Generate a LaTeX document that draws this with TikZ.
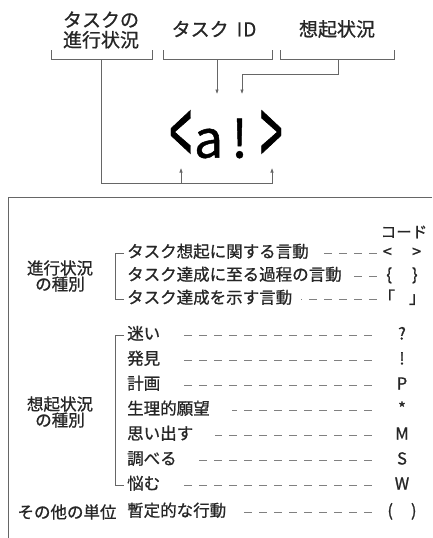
\documentclass[tikz,border=0pt]{standalone}
\usepackage{fontspec}
\setmainfont{Noto Sans CJK JP}[UprightFeatures={FakeBold=0.9}]
\usetikzlibrary{arrows.meta}
\tikzset{
  line/.style={draw=black!60, line width=0.6pt},
  guide/.style={draw=black!50, line width=0.6pt, dash pattern=on 8pt off 7pt},
  feed/.style={line, -{Latex[length=4.5pt,width=3.5pt]}},
  toplabel/.style={font=\fontsize{19}{20}\selectfont, text=black!85, align=center},
  kind/.style={font=\fontsize{16.5}{16}\selectfont, text=black!85, align=center},
  entry/.style={font=\fontsize{16.5}{18}\selectfont, text=black!85, anchor=west, inner sep=0pt, text height=12pt, text depth=3pt},
  codebox/.style={font=\fontsize{16.5}{18}\selectfont, text=black!85, inner sep=0pt, minimum width=48pt, text height=12pt, text depth=3pt}
}
\newcommand{\tallglyph}[1]{\raisebox{-10pt}{\scalebox{0.78}[1.85]{#1}}}
\begin{document}
\begin{tikzpicture}[x=1pt,y=-1pt]
\useasboundingbox (0,0) rectangle (433,538);
% upper part: how a code is built
\node[toplabel] (prog) at (101,30) {タスクの\\進行状況};
\node[toplabel] (tid) at (214,29) {タスク\hspace{8pt}I\hspace{1pt}D};
\node[toplabel] (rec) at (337,29) {想起状況};
\draw[line] (51,50) -- (51,59) -- (152,59) -- (152,50);
\draw[line] (163,50) -- (163,59) -- (272,59) -- (272,50);
\draw[line] (280,50) -- (280,59) -- (394,59) -- (394,50);
\coordinate (progB) at (101,59);
\coordinate (tidB) at (217,59);
\coordinate (recB) at (338,59);
\node[font=\fontsize{52}{52}\selectfont, text=black] (code) at (226,139) {\tallglyph{<}\hspace{2pt}a\hspace{8pt}!\hspace{12pt}\tallglyph{>}};
\coordinate (codeTL) at (217,94);
\coordinate (codeTR) at (242,94);
\coordinate (codeBL) at (181,168);
\coordinate (codeBR) at (272,168);
\draw[feed] (tidB) -- (codeTL);
\draw[feed] (recB) |- (242,74) -- (codeTR);
\draw[feed] (progB) |- (272,183) -- (codeBR);
\draw[feed] (181,183) -- (codeBL);
% lower part: list of codes
\draw[line] (432,197) -- (8,197) -- (8,538);
\node[font=\fontsize{15.5}{16}\selectfont, text=black!85] (head) at (404,232) {コード};
\node[kind] (kind1) at (60,276) {進行状況\\の種別};
\node[entry] (p1) at (127,253) {タスク想起に関する言動};
\node[entry] (p2) at (127,276) {タスク達成に至る過程の言動};
\node[entry] (p3) at (127,299) {タスク達成を示す言動};
\node[codebox] (c1) at (402,253) {<\hspace{20pt}>};
\node[codebox] (c2) at (402,276) {\{\hspace{20pt}\}};
\node[codebox] (c3) at (402,299) {「\hspace{14pt}」};
\draw[line] ([xshift=-3pt]p1.west) -| ([xshift=-12pt]p3.west) -- ([xshift=-3pt]p3.west);
\draw[guide, shorten <=1pt, shorten >=9pt] (c1.west) -- (p1.east);
\draw[guide, shorten <=1pt, shorten >=9pt] (c2.west) -- (p2.east);
\draw[guide, shorten <=1pt, shorten >=9pt] (c3.west) -- (p3.east);
\node[kind] (kind2) at (60,412) {想起状況\\の種別};
\node[entry] (s1) at (127,335) {迷い};
\node[entry] (s2) at (127,360) {発見};
\node[entry] (s3) at (127,385) {計画};
\node[entry] (s4) at (127,410) {生理的願望};
\node[entry] (s5) at (127,435) {思い出す};
\node[entry] (s6) at (127,460) {調べる};
\node[entry] (s7) at (127,485) {悩む};
\node[codebox] (m1) at (402,335) {?};
\node[codebox] (m2) at (402,360) {!};
\node[codebox] (m3) at (402,385) {P};
\node[codebox] (m4) at (402,410) {*};
\node[codebox] (m5) at (402,435) {M};
\node[codebox] (m6) at (402,460) {S};
\node[codebox] (m7) at (402,485) {W};
\draw[line] ([xshift=-3pt]s1.west) -| ([xshift=-12pt]s7.west) -- ([xshift=-3pt]s7.west);
\draw[guide, shorten <=6pt, shorten >=22pt] (m1.west) -- (s1.east);
\draw[guide, shorten <=6pt, shorten >=22pt] (m2.west) -- (s2.east);
\draw[guide, shorten <=6pt, shorten >=22pt] (m3.west) -- (s3.east);
\draw[guide, shorten <=6pt, shorten >=22pt] (m4.west) -- (s4.east);
\draw[guide, shorten <=6pt, shorten >=22pt] (m5.west) -- (s5.east);
\draw[guide, shorten <=6pt, shorten >=22pt] (m6.west) -- (s6.east);
\draw[guide, shorten <=6pt, shorten >=22pt] (m7.west) -- (s7.east);
\node[kind] (other) at (67,512) {その他の単位};
\node[entry] (o1) at (127,512) {暫定的な行動};
\node[codebox] (oc) at (402,512) {(\hspace{18pt})};
\draw[guide, shorten <=6pt, shorten >=16pt] (oc.west) -- (o1.east);
\end{tikzpicture}
\end{document}
